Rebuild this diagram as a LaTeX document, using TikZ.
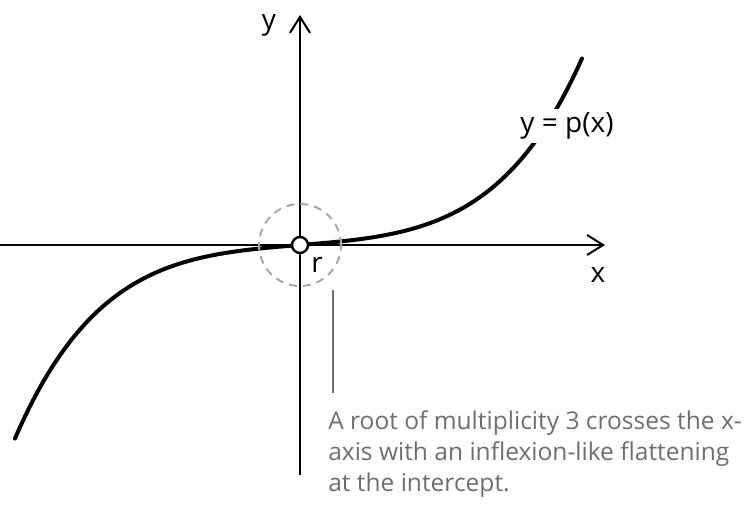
\documentclass[tikz,border=0pt]{standalone}
\usepackage{fontspec}
\setsansfont{Open Sans}
\usetikzlibrary{arrows.meta, positioning}
\definecolor{notegray}{HTML}{6E6E6E}
\definecolor{ringgray}{HTML}{A8A8A8}

\begin{document}
\begin{tikzpicture}[font=\sffamily, x=0.75pt, y=0.75pt]
% Setup the styles for the plot
\tikzset{axis style/.style={line width=1.5pt,
		-{Straight Barb[length=12pt, width=15pt]}},
	curve style/.style={line width=3pt, line cap=round},
	label style/.style={font=\sffamily\fontsize{21}{24}\selectfont, inner sep=1pt},
	ring style/.style={circle, draw=ringgray, dashed,
		dash pattern=on 6pt off 4.5pt, line width=1.5pt,
		minimum size=61.5pt},
	root style/.style={circle, draw, fill=white, line width=1.8pt,
		minimum size=12pt, inner sep=0pt},
	note style/.style={font=\sffamily\fontsize{18.4}{23.5}\selectfont,
		text=notegray, align=left, inner sep=0pt}}
\useasboundingbox (-300,-261) rectangle (452,245);

% Draw the axes
\coordinate (xmin) at (-300,0);
\coordinate (xmax) at (305,0);
\coordinate (ymin) at (0,-230);
\coordinate (ymax) at (0,230);
\draw[axis style] (xmin) -- (xmax);
\draw[axis style] (ymin) -- (ymax);
\node[label style] at (298,-30) (xlabel) {x};
\node[label style] at (-31,220) (ylabel) {y};

% Draw the curve
\draw[curve style] plot[domain=-285:282, samples=120, smooth]
	(\x, {100*(0.0467*(\x/100)^3 + 0.08*(\x/100) + 0.00333*(\x/100)^5)});
\node[label style, fill=white, inner sep=3pt] at (267,119) (plabel) {y = p(x)};

% Mark the root
\node[ring style] at (0,0) (ring) {};
\node[root style] at (0,0) (root) {};
\node[label style] at (17,-20) (rlabel) {r};

% Add the note
\coordinate (leadtop) at (33,-45);
\coordinate (leadend) at (33,-148);
\draw[notegray, line width=1.1pt] (leadtop) -- (leadend);
\node[note style, anchor=north west] at (28,-165) (note)
	{A root of multiplicity 3 crosses the x-\\
	axis with an inflexion-like flattening\\
	at the intercept.};
\end{tikzpicture}
\end{document}
